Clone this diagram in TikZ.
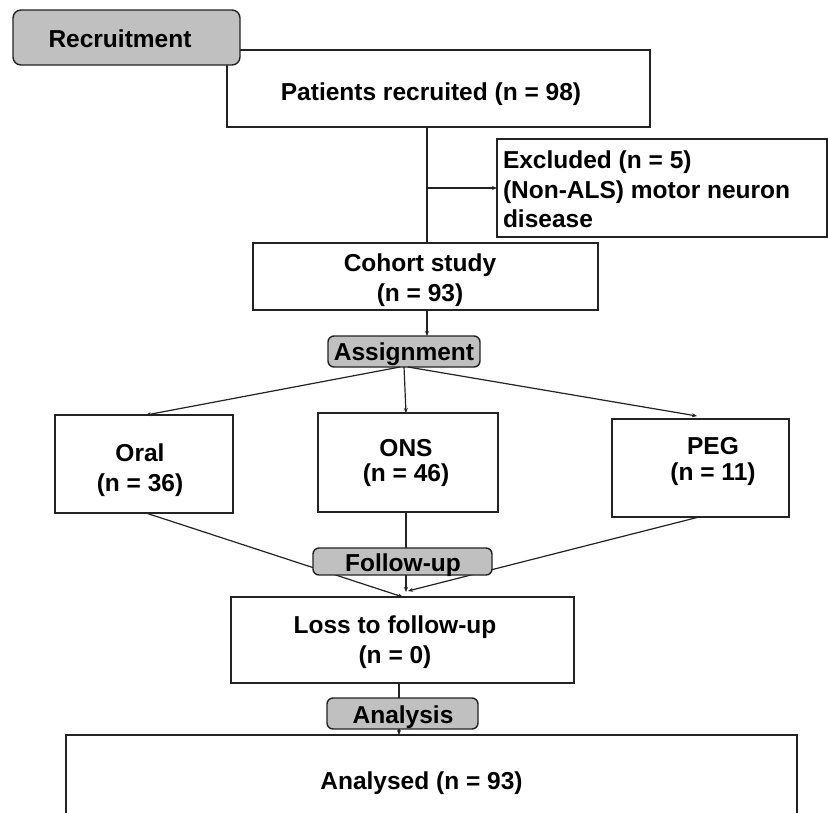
\documentclass[tikz,border=0pt]{standalone}
\usepackage{fontspec}
\setmainfont{Liberation Sans}
\usetikzlibrary{arrows.meta}
\definecolor{boxgray}{RGB}{192,192,192}
\definecolor{edge}{RGB}{35,35,35}
\begin{document}
\begin{tikzpicture}[x=1pt,y=-1pt,
  box/.style={draw=edge, line width=1.4pt, fill=white, inner sep=0pt, outer sep=0pt},
  stage/.style={box, fill=boxgray, rounded corners=6pt},
  txt/.style={inner sep=0pt, outer sep=0pt, text=black},
  lbl/.style={txt, font=\bfseries\fontsize{24.5}{30}\selectfont},
  conn/.style={draw=edge, line width=1.2pt},
  arr/.style={conn, -{Stealth[length=5pt,width=4pt]}},
]
\useasboundingbox (0,0) rectangle (828,812);
\clip (0,0) rectangle (828,812);
\fill[white] (0,0) rectangle (828,812);

% box nodes
\node[box, minimum width=423pt, minimum height=77pt] (patients) at (438.5,88.5) {};
\node[box, minimum width=330pt, minimum height=98pt] (excluded) at (662,188) {};
\node[box, minimum width=345pt, minimum height=67pt] (cohort) at (425.5,276.5) {};
\node[box, minimum width=178pt, minimum height=98pt] (oral) at (144,464) {};
\node[box, minimum width=180pt, minimum height=99pt] (ons) at (408,462.5) {};
\node[box, minimum width=177pt, minimum height=98pt] (peg) at (700.5,468) {};
\node[box, minimum width=343pt, minimum height=86pt] (loss) at (402.5,640) {};
\node[box, minimum width=731pt, minimum height=100pt] (analysed) at (431.5,785) {};

% stage boxes
\node[stage, minimum width=152pt, minimum height=31pt] (assign) at (404,351.5) {};

% connectors
\draw[conn] ([xshift=-11.5pt]patients.south) -- ([xshift=1.5pt]cohort.north);
\coordinate (branch) at ([xshift=-11.5pt]patients.south |- excluded.west);
\draw[arr] (branch) -- (excluded.west);
\draw[arr] ([xshift=1.5pt]cohort.south) -- ([xshift=23pt]assign.north);
\draw[arr] ([xshift=-4pt]assign.south) -- ([xshift=2pt]oral.north);
\draw[arr] (assign.south) -- ([xshift=-2pt]ons.north);
\draw[arr] ([xshift=4pt]assign.south) -- ([xshift=-3.5pt,yshift=3pt]peg.north);
\draw[arr] ([xshift=2pt]oral.south) -- ([xshift=0.5pt]loss.north);
\draw[arr] ([xshift=-2pt]ons.south) -- ([xshift=3.5pt,yshift=5pt]loss.north);
\draw[arr] ([xshift=-1.5pt]peg.south) -- ([xshift=5.5pt,yshift=6pt]loss.north);
\draw[arr] ([xshift=-3.5pt]loss.south) -- ([xshift=-32.5pt]analysed.north);

% stage boxes (on top of connectors)
\node[stage, rounded corners=8pt, minimum width=227pt, minimum height=55pt] (recruit) at (126.5,37.5) {};
\node[stage, minimum width=179pt, minimum height=27pt] (follow) at (402.5,561.5) {};
\node[stage, minimum width=151pt, minimum height=31pt] (analysis) at (402.5,713.5) {};

% texts
\node[lbl, anchor=base] (recruitT) at (120,47) {Recruitment};
\node[lbl, anchor=base] (patientsT) at (431,100) {Patients recruited (n = 98)};
\node[lbl, anchor=north west, align=left, font=\bfseries\fontsize{24.5}{29.5}\selectfont] (excludedT) at (503,151.2) {Excluded (n = 5)\\(Non-ALS) motor neuron\\disease};
\node[lbl, anchor=north, align=center, font=\bfseries\fontsize{24.5}{30}\selectfont] (cohortT) at (420,253.4) {Cohort study\\(n = 93)};
\node[lbl, anchor=base] (assignT) at (404,360) {Assignment};
\node[lbl, anchor=north, align=center, font=\bfseries\fontsize{24.5}{30}\selectfont] (oralT) at (140,443.4) {Oral\\(n = 36)};
\node[lbl, anchor=north, align=center, font=\bfseries\fontsize{24.5}{25}\selectfont] (onsT) at (406,439.4) {ONS\\(n = 46)};
\node[lbl, anchor=north, align=center, font=\bfseries\fontsize{24.5}{26}\selectfont] (pegT) at (713,437.4) {PEG\\(n = 11)};
\node[lbl, anchor=base] (followT) at (403,571) {Follow-up};
\node[lbl, anchor=north, align=center, font=\bfseries\fontsize{24.5}{30}\selectfont] (lossT) at (395,615.4) {Loss to follow-up\\(n = 0)};
\node[lbl, anchor=base] (analysisT) at (403,723) {Analysis};
\node[lbl, anchor=base] (analysedT) at (421.5,789) {Analysed (n = 93)};
\end{tikzpicture}
\end{document}
